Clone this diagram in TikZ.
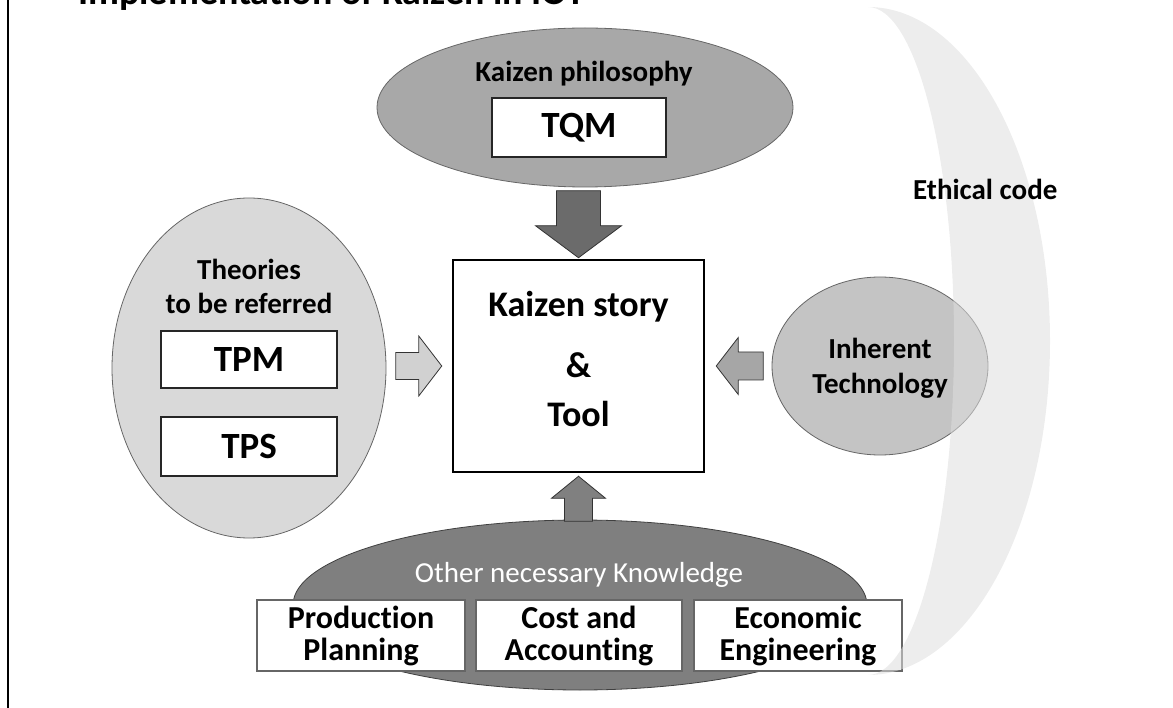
\documentclass[tikz,border=0pt]{standalone}
\usepackage{fontspec}
\setmainfont{Carlito}[Ligatures=NoCommon]
\usetikzlibrary{shapes.geometric}

\definecolor{philgray}{HTML}{A8A8A8}
\definecolor{theogray}{HTML}{D9D9D9}
\definecolor{techgray}{HTML}{C4C4C4}
\definecolor{knowgray}{HTML}{7F7F7F}

\begin{document}
\begin{tikzpicture}[x=1pt, y=-1pt, every node/.style={inner sep=0pt, font=\bfseries\fontsize{29}{34}\selectfont}, oval/.style={draw=black!60, line width=0.8pt, ellipse, inner sep=0pt}, tbox/.style={draw=black!85, line width=2pt, fill=white, minimum width=176pt, font=\bfseries\fontsize{37}{40}\selectfont}, kbox/.style={draw=black!60, line width=1.2pt, fill=white, minimum height=71pt, align=center, font=\bfseries\fontsize{32}{32}\selectfont}, blk/.style={draw=black!80, line width=0.8pt, line join=miter}]
	\useasboundingbox (0,0) rectangle (1173,708);
	\draw[line width=2.5pt] (8,0) -- (8,708);
	\node[anchor=base west, font=\bfseries\fontsize{38}{40}\selectfont] (title) at (78,5) {Implementation of Kaizen in IOT};
	% surrounding ovals
	\node[oval, fill=philgray, minimum width=416pt, minimum height=159pt] (phil) at (585,107.5) {};
	\node[oval, fill=theogray, minimum width=274pt, minimum height=340pt] (theo) at (249,368) {};
	\node[oval, fill=techgray, minimum width=216pt, minimum height=178pt] (tech) at (880,366) {};
	\node[oval, draw=black!75, fill=knowgray, minimum width=574pt, minimum height=170pt] (know) at (580,605) {};
	% centre box
	\node[draw, line width=2.5pt, fill=white, minimum width=251pt, minimum height=212pt] (story) at (578.5,366) {};
	\node[anchor=north, align=center, font=\bfseries\fontsize{36}{49}\selectfont] (storytxt) at (578.5,291) {Kaizen story\\[12pt]\&\\Tool};
	% block arrows into the box
	\draw[blk, fill=black!58, shift={(story.north)}] (0,-1) -- (-43,-33) -- (-22,-33) -- (-22,-68) -- (22,-68) -- (22,-33) -- (43,-33) -- cycle;
	\draw[blk, fill=black!50, shift={(story.south)}] (0,3) -- (-27,25) -- (-14,25) -- (-14,48) -- (14,48) -- (14,25) -- (27,25) -- cycle;
	\draw[blk, fill=black!18, shift={(story.west)}] (-10,0) -- (-33,-30) -- (-33,-13.5) -- (-56,-13.5) -- (-56,13.5) -- (-33,13.5) -- (-33,30) -- cycle;
	\draw[blk, fill=black!35, shift={(story.east)}] (11,0) -- (33,-28.5) -- (33,-14) -- (58,-14) -- (58,14) -- (33,14) -- (33,28.5) -- cycle;
	% labels and boxes
	\node[anchor=base] (philtxt) at (584,82) {Kaizen philosophy};
	\node[tbox, minimum width=174pt, minimum height=59pt] (tqm) at (579,127.5) {TQM};
	\node[anchor=north, align=center] (theotxt) at (249,259) {Theories\\to be referred};
	\node[tbox, minimum height=57pt] (tpm) at (249,359.5) {TPM};
	\node[tbox, minimum height=59pt] (tps) at (249,446.5) {TPS};
	\node[anchor=north, align=center, font=\bfseries\fontsize{29}{35}\selectfont] (techtxt) at (880,338) {Inherent\\Technology};
	\node[anchor=base, text=white, font=\fontsize{29}{34}\selectfont] (knowtxt) at (579,582) {Other necessary Knowledge};
	\foreach \n/\x/\w/\t in {prod/361/208/{Production\\Planning}, cost/579/206/{Cost and\\Accounting}, econ/798/208/{Economic\\Engineering}}
		{\node[kbox, minimum width=\w pt] (\n) at (\x,635.5) {\t};}
	% ethical code band
	\fill[black!13, fill opacity=0.55] (868,7) arc[start angle=90, end angle=-90, x radius=182pt, y radius=334pt] arc[start angle=-90, end angle=90, x radius=86pt, y radius=334pt] -- cycle;
	\node[anchor=base west] (ethic) at (913,200) {Ethical code};
\end{tikzpicture}
\end{document}
